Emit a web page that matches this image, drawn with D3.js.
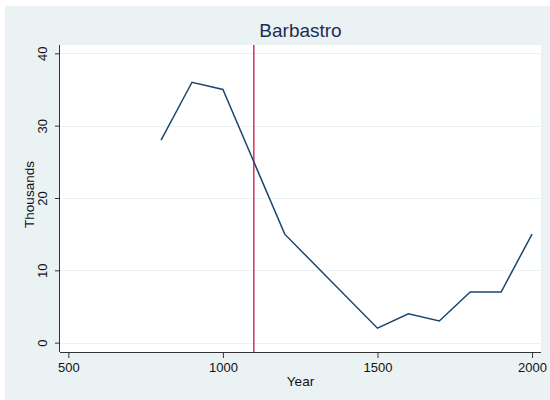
<!DOCTYPE html>
<html><head><meta charset="utf-8">
<script src="https://cdn.jsdelivr.net/npm/d3@7"></script>
<style>body{margin:0;background:#fff}svg{display:block}text{font-family:"Liberation Sans",Arial,sans-serif}</style>
</head><body><svg id="c" width="550" height="400"></svg>
<script>
const years = [800, 900, 1000, 1200, 1500, 1600, 1700, 1800, 1900, 2000];
const thousands = [28, 36, 35, 15, 2, 4, 3, 7, 7, 15];
const xTicks = [500, 1000, 1500, 2000];
const yTicks = [0, 10, 20, 30, 40];
const markerYear = [1100];
const title = "Barbastro";
const xLabel = "Year";
const yLabel = "Thousands";

const svg = d3.select("#c");
svg.append("rect").attr("x",5).attr("y",6).attr("width",545).attr("height",394).attr("fill","#eaf2f3");
const L=60,R=541,T=45,B=352;
svg.append("rect").attr("x",L).attr("y",T).attr("width",R-L).attr("height",B-T).attr("fill","#fff");
const x = d3.scaleLinear().domain([473,2029]).range([L,R]);
const y = d3.scaleLinear().domain([-1.29,41.15]).range([B,T]);

svg.append("g").selectAll("line").data(yTicks).join("line")
 .attr("x1",L).attr("x2",R).attr("y1",d=>Math.round(y(d))+0.5).attr("y2",d=>Math.round(y(d))+0.5)
 .attr("stroke","#eaf2f3").attr("stroke-width",1.2);

const gx = svg.append("g").attr("transform",`translate(0,${B})`)
 .call(d3.axisBottom(x).tickValues(xTicks).tickSize(6).tickPadding(5).tickFormat(d3.format("d")));
gx.select(".domain").attr("d",`M${L},0.5H${R}`).attr("stroke","#333");
gx.selectAll(".tick line").attr("stroke","#333");
gx.selectAll("text").attr("font-size",13).attr("fill","#111").attr("font-family","Liberation Sans, Arial, sans-serif");

const gy = svg.append("g").attr("transform",`translate(${L},0)`)
 .call(d3.axisLeft(y).tickValues(yTicks).tickSize(5).tickPadding(3));
gy.select(".domain").attr("d",`M-0.5,${T}V${B}`).attr("stroke","#333");
gy.selectAll(".tick line").attr("stroke","#333");
gy.selectAll("text").attr("font-size",13).attr("fill","#111").attr("font-family","Liberation Sans, Arial, sans-serif")
 .attr("x",-9).attr("dy",0).attr("transform","rotate(-90)").attr("text-anchor","middle")
 .attr("y",-8);
gy.selectAll(".tick text").each(function(){
  const t=d3.select(this); t.attr("x",0).attr("y",0).attr("transform","translate(-13.5,0) rotate(-90)");
});

svg.append("g").selectAll("line").data(markerYear).join("line")
 .attr("x1",d=>x(d)).attr("x2",d=>x(d)).attr("y1",T).attr("y2",B)
 .attr("stroke","#d1335a").attr("stroke-width",1.5);

svg.append("path").datum(years.map((d,i)=>[d,thousands[i]]))
 .attr("d",d3.line().x(d=>x(d[0])).y(d=>y(d[1])))
 .attr("fill","none").attr("stroke","#1a476f").attr("stroke-width",1.5);

svg.append("text").attr("x",(L+R)/2).attr("y",37).attr("text-anchor","middle")
 .attr("font-size",19).attr("fill","#1e2d53").text(title);
svg.append("text").attr("x",(L+R)/2).attr("y",386).attr("text-anchor","middle")
 .attr("font-size",13.5).attr("fill","#111").text(xLabel);
svg.append("text").attr("transform",`translate(33.5,${(T+B)/2-4}) rotate(-90)`).attr("text-anchor","middle")
 .attr("font-size",13.5).attr("fill","#111").text(yLabel);
</script></body></html>
